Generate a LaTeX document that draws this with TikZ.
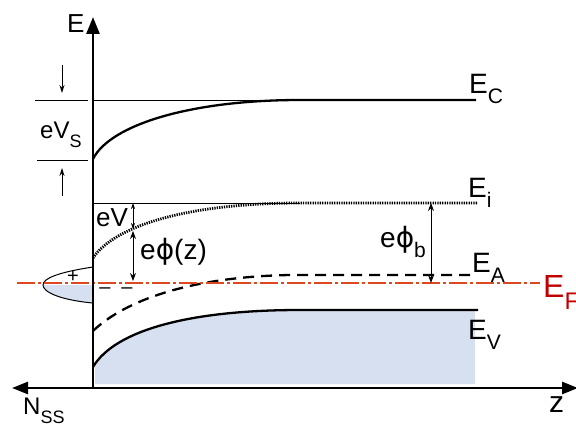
\documentclass[tikz,border=0pt]{standalone}
\usepackage{fontspec}
\usepackage{graphicx}
\setmainfont{Liberation Sans}
\newfontfamily\symfont{DejaVu Sans}
\usetikzlibrary{arrows.meta}
\definecolor{fillblue}{RGB}{214,224,241}
\definecolor{efline}{RGB}{222,72,30}
\definecolor{eflabel}{RGB}{192,0,0}
\newcommand\mysub[1]{\raisebox{-0.38em}{\scalebox{0.75}{#1}}}
\newcommand\myphi{{\symfont ϕ}}
\begin{document}
\begin{tikzpicture}[x=1pt,y=-1pt,
  lbl/.style={inner sep=0pt, anchor=base west, font=\fontsize{28}{28}\selectfont},
  mid/.style={font=\fontsize{28}{28}\selectfont},
  level/.style={line width=2.3pt},
  thinline/.style={line width=0.7pt},
  axis/.style={line width=2.6pt},
  dimarrow/.style={line width=0.9pt, {Stealth[length=8pt,width=6pt]}-{Stealth[length=8pt,width=6pt]}},
  smallarrow/.style={line width=0.8pt, -{Stealth[length=8pt,width=5pt]}},
  sign/.style={inner sep=0pt, font=\fontsize{20}{20}\selectfont}]
\useasboundingbox (0,0) rectangle (576,428);

% filled valence band
\fill[fillblue] (95,367) .. controls (115,330) and (190,311) .. (300,311) -- (475,311) -- (475,384) -- (95,384) -- cycle;
% surface-state lens
\fill[fillblue] (43,285) .. controls (43,292) and (60,300) .. (93,303) -- (93,285) -- cycle;
\draw[line width=1pt] (93,267) .. controls (60,272) and (43,278) .. (43,285) .. controls (43,292) and (60,300) .. (93,303);

% thin reference lines
\draw[thinline] (93,100) -- (476,100);
\draw[thinline] (93,203) -- (300,203);
\draw[thinline] (35,100) -- (88,100);
\draw[thinline] (37,160) -- (88,160);

% E_C
\draw[level] (93,159) .. controls (110,125) and (190,100) .. (300,100) -- (476,100);
% E_i dotted
\draw[line width=2.8pt, dash pattern=on 1.3pt off 1.1pt] (93,258) .. controls (115,225) and (190,203) .. (300,203) -- (478,203);
% E_A dashed
\draw[level, dash pattern=on 11pt off 7pt] (93,331) .. controls (120,305) and (180,277) .. (290,275) -- (476,275);
% E_V
\draw[level] (93,367) .. controls (115,330) and (190,310) .. (300,310) -- (478,310);

% E_F
\draw[efline, line width=2.5pt, dash pattern=on 18pt off 3pt on 3pt off 3pt] (17,283) -- (540,283);

% axes
\coordinate (Eorig) at (93,388);
\coordinate (Etop) at (93,17);
\coordinate (zleft) at (12,388);
\coordinate (zright) at (578,388);
\draw[axis, -{Triangle[length=17pt,width=13pt]}] (Eorig) -- (Etop);
\draw[axis, {Triangle[length=16pt,width=12pt]}-{Triangle[length=16pt,width=12pt]}] (zleft) -- (zright);

% eV_S arrows
\coordinate (vsA) at (62,65);
\coordinate (vsB) at (62,93);
\coordinate (vsC) at (62,196);
\coordinate (vsD) at (62,168);
\draw[smallarrow] (vsA) -- (vsB);
\draw[smallarrow] (vsC) -- (vsD);

% eV and ephi(z) arrows
\coordinate (evA) at (133,203);
\coordinate (evB) at (133,229);
\coordinate (epA) at (133,231);
\coordinate (epB) at (133,281);
\draw[line width=0.8pt, {Stealth[length=6pt,width=4pt]}-{Stealth[length=6pt,width=4pt]}] (evA) -- (evB);
\draw[dimarrow] (epA) -- (epB);
% ephi_b arrow
\coordinate (ebA) at (431,203);
\coordinate (ebB) at (431,283);
\draw[dimarrow] (ebA) -- (ebB);

% labels
\node[lbl, font=\fontsize{26}{26}\selectfont] (Elab) at (67,33) {E};
\node[lbl] (EC) at (469,93) {E\mysub{C}};
\node[lbl] (Ei) at (468,197) {E\mysub{i}};
\node[lbl] (EA) at (472,272) {E\mysub{A}};
\node[lbl, text=eflabel, font=\fontsize{32}{32}\selectfont] (EF) at (543,297) {E\mysub{F}};
\node[lbl] (EV) at (468,339) {E\mysub{V}};
\node[lbl, font=\fontsize{24}{24}\selectfont] (NSS) at (23,414) {N\mysub{SS}};
\node[lbl, font=\fontsize{30}{30}\selectfont] (zlab) at (549,412) {z};
\node[lbl, font=\fontsize{24}{24}\selectfont] (eVS) at (40,138) {eV\mysub{S}};
\node[lbl, font=\fontsize{26}{26}\selectfont] (eVlab) at (96,226) {eV};
\node[lbl, mid] (ephiz) at (140,259) {e\myphi(z)};
\node[lbl, mid] (ephib) at (380,247) {e\myphi\mysub{b}};

\node[sign] (plus) at (73,277) {+};
\node[sign] (minA) at (105,291) {–};
\node[sign] (minB) at (127,291) {–};
\end{tikzpicture}
\end{document}
